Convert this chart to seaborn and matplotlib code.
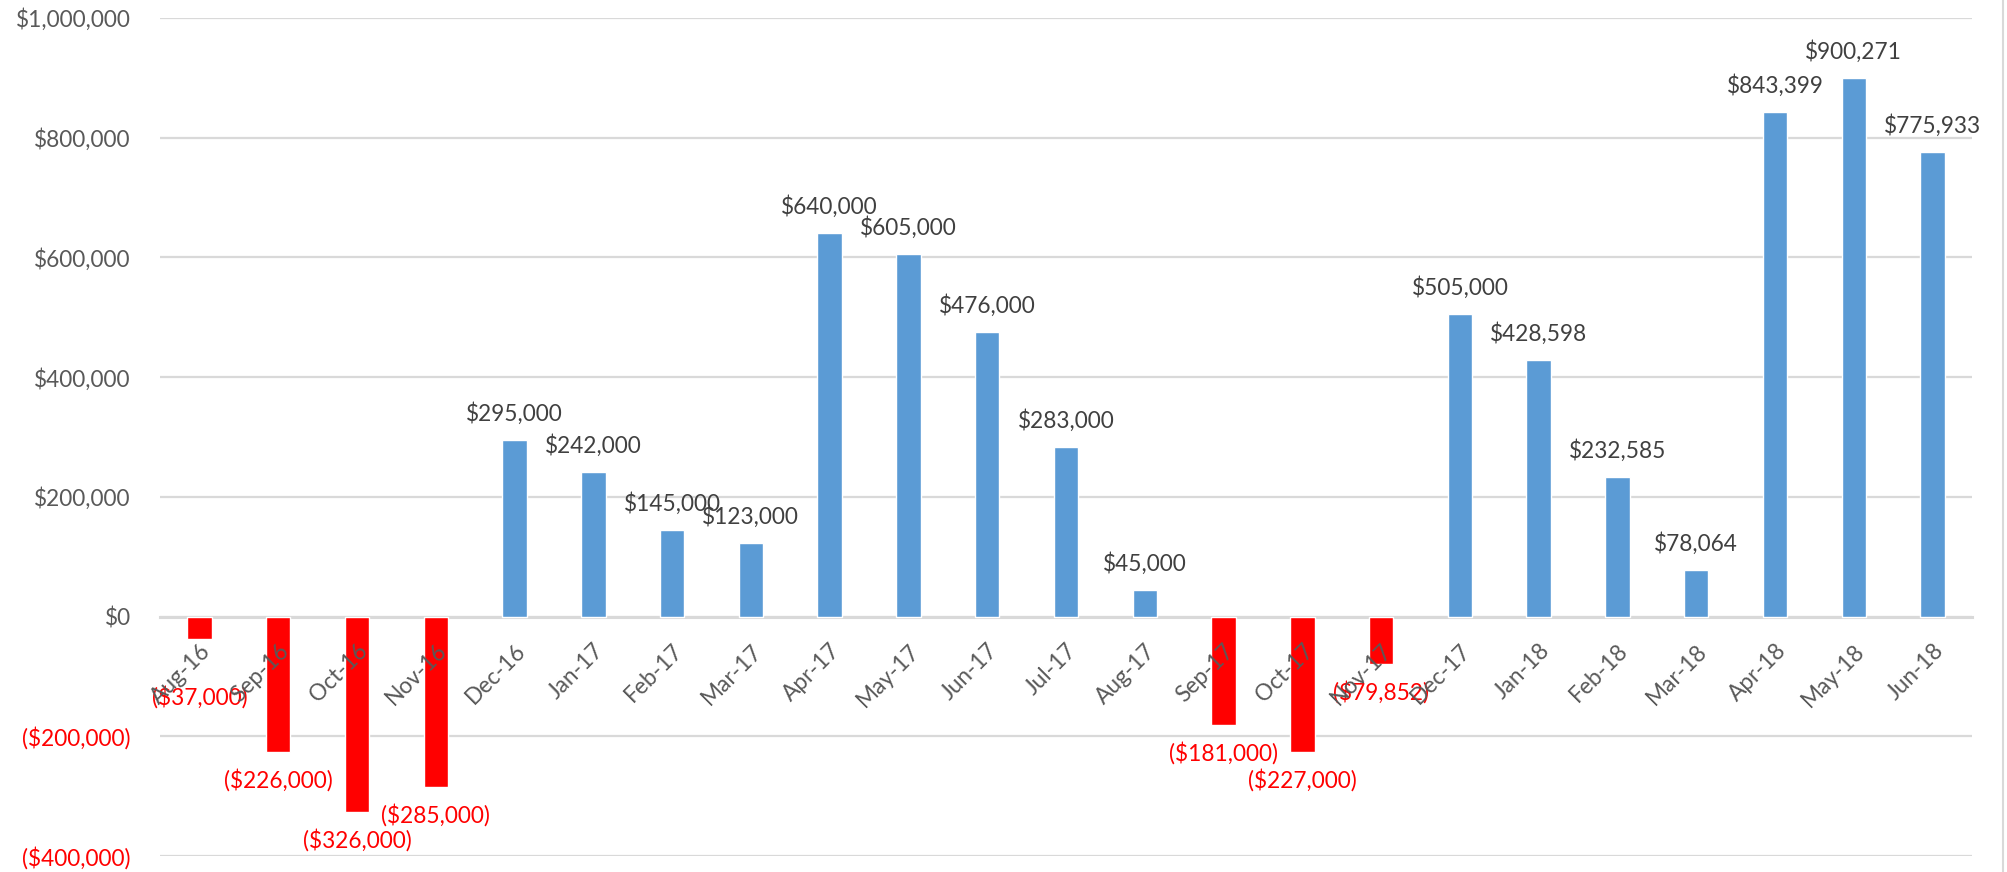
import matplotlib
matplotlib.use('Agg')
import matplotlib.pyplot as plt
import seaborn as sns
import pandas as pd
from matplotlib.lines import Line2D

# 数据
months = ['Aug-16', 'Sep-16', 'Oct-16', 'Nov-16', 'Dec-16', 'Jan-17', 'Feb-17', 'Mar-17',
          'Apr-17', 'May-17', 'Jun-17', 'Jul-17', 'Aug-17', 'Sep-17', 'Oct-17', 'Nov-17',
          'Dec-17', 'Jan-18', 'Feb-18', 'Mar-18', 'Apr-18', 'May-18', 'Jun-18']
values = [-37000, -226000, -326000, -285000, 295000, 242000, 145000, 123000,
          640000, 605000, 476000, 283000, 45000, -181000, -227000, -79852,
          505000, 428598, 232585, 78064, 843399, 900271, 775933]
y_ticks = [-400000, -200000, 0, 200000, 400000, 600000, 800000, 1000000]

blue = '#5B9BD5'
red = '#FF0000'
grey_txt = '#595959'
grid_c = '#D9D9D9'

# 个别数据标签在原图中被手动下移
label_nudge = {'Aug-16': -22}


def money(v):
    # Excel 风格的货币格式，负数用括号
    if v < 0:
        return '(${:,.0f})'.format(-v)
    return '${:,.0f}'.format(v)


df = pd.DataFrame({'month': months, 'value': values})
df['sign'] = ['neg' if v < 0 else 'pos' for v in values]

sns.set_style('white')
plt.rcParams['font.family'] = ['Lato', 'DejaVu Sans']

fig = plt.figure(figsize=(20.07, 8.72), dpi=100)
ax = fig.add_axes([160 / 2007, 16 / 872, (1972 - 160) / 2007, (854 - 16) / 872])

sns.barplot(data=df, x='month', y='value', hue='sign', order=months,
            palette={'neg': red, 'pos': blue}, dodge=False, width=0.31,
            legend=False, saturation=1, ax=ax)

# 数据标签
for i, (m, v) in enumerate(zip(months, values)):
    if v >= 0:
        ax.annotate(money(v), (i, v), xytext=(0, 11), textcoords='offset points',
                    ha='center', va='bottom', fontsize=16.3, color='#404040')
    else:
        ax.annotate(money(v), (i, v), xytext=(0, -12 + label_nudge.get(m, 0)),
                    textcoords='offset points', ha='center', va='top',
                    fontsize=16.3, color=red)

ax.set_ylim(-400000, 1000000)
ax.set_xlim(-0.5, len(months) - 0.5)
ax.set_yticks(y_ticks)
ax.set_yticklabels([money(t) for t in y_ticks], fontsize=16.3)
for lab, t in zip(ax.get_yticklabels(), y_ticks):
    lab.set_color(red if t < 0 else grey_txt)
ax.tick_params(axis='y', length=0, pad=21)
ax.yaxis.grid(True, color=grid_c, linewidth=1.6)
ax.set_axisbelow(True)

# x 轴放在 0 的位置，标签画在柱子上面
for s in ['left', 'right', 'top']:
    ax.spines[s].set_visible(False)
ax.spines['bottom'].set_position(('data', 0))
ax.spines['bottom'].set_color(grid_c)
ax.spines['bottom'].set_linewidth(2.2)
ax.spines['bottom'].set_zorder(0.5)
ax.set_xticks(range(len(months)))
ax.set_xticklabels(months, rotation=45, ha='right', va='top', rotation_mode='anchor',
                   fontsize=16.3, color=grey_txt)
ax.tick_params(axis='x', which='major', length=0, pad=17)
ax.set_xticks([i - 0.5 for i in range(len(months) + 1)], minor=True)
ax.tick_params(axis='x', which='minor', length=7, width=1.6, color=grid_c, direction='out')
ax.xaxis.set_zorder(3)
ax.set_xlabel('')
ax.set_ylabel('')

# 右侧边框
fig.add_artist(Line2D([0.9978, 0.9978], [0, 1], transform=fig.transFigure, color=grid_c, linewidth=1.5))

fig.savefig('out.png', dpi=100)
